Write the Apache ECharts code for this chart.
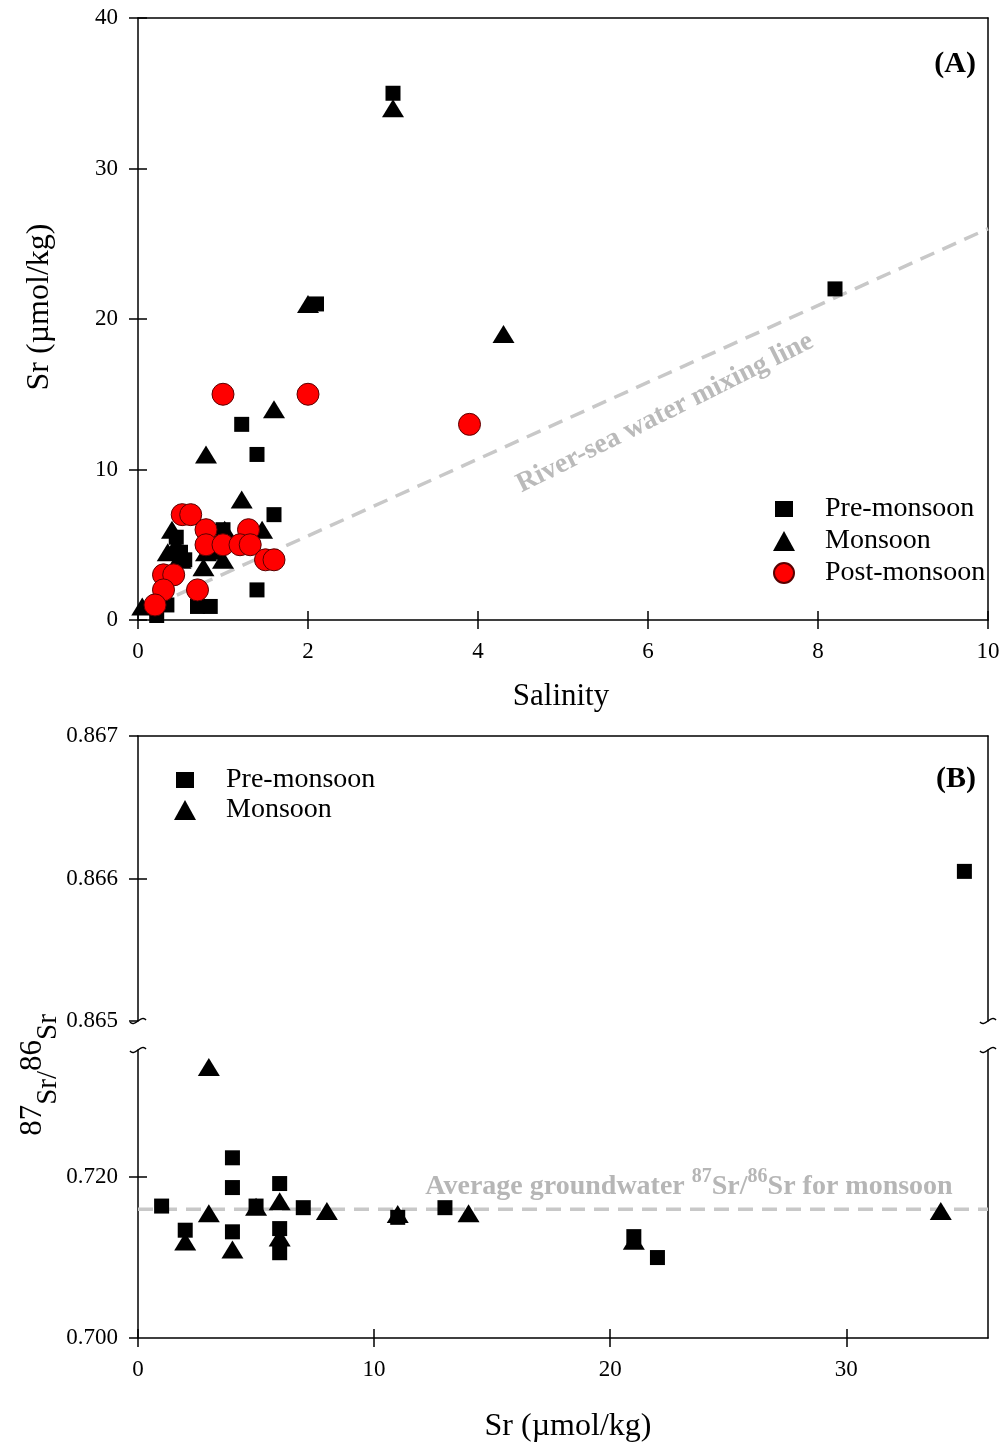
<!DOCTYPE html>
<html>
<head>
<meta charset="utf-8">
<script src="https://cdn.jsdelivr.net/npm/echarts@6/dist/echarts.min.js"></script>
<style>
  html, body { margin: 0; padding: 0; background: #fff; }
  #chart { width: 1005px; height: 1449px; }
</style>
</head>
<body>
<div id="chart"></div>
<script>
// ---- Panel A: salinity vs dissolved Sr (µmol/kg) ----
const salSrPre = [
  [3.0, 35], [8.2, 22], [2.1, 21], [1.22, 13], [1.4, 11], [1.6, 7], [1.4, 2],
  [0.7, 0.9], [0.85, 0.9], [0.22, 0.3], [0.34, 1.0], [0.5, 4.5], [0.45, 5.5],
  [0.55, 4.0], [0.3, 1.8], [0.9, 4.5], [1.0, 6.0]
];
const salSrMonsoon = [
  [3.0, 34], [4.3, 19], [2.0, 21], [1.6, 14], [0.8, 11], [1.22, 8], [1.46, 6],
  [1.02, 6], [0.4, 6], [0.45, 5], [0.5, 4], [0.42, 3.5], [0.77, 3.5], [1.0, 4],
  [0.05, 0.9], [0.8, 4.5], [0.35, 4.5]
];
const salSrPost = [
  [1.0, 15], [2.0, 15], [3.9, 13], [0.52, 7], [0.62, 7], [0.8, 6], [1.3, 6],
  [0.8, 5], [1.0, 5], [1.2, 5], [1.32, 5], [1.5, 4], [1.6, 4], [0.3, 3],
  [0.42, 3], [0.3, 2], [0.7, 2], [0.2, 1]
];
const mixingLine = [[0.2, 1.0], [10, 26]];
const salinityTicks = [0, 2, 4, 6, 8, 10];
const srTicksA = [0, 10, 20, 30, 40];

// ---- Panel B: dissolved Sr vs 87Sr/86Sr ----
const srRatioPre = [
  [35, 0.86605], [1, 0.7164], [2, 0.7134], [4, 0.7224], [4, 0.7187], [4, 0.7132],
  [5, 0.7164], [6, 0.7192], [6, 0.7136], [6, 0.7106], [7, 0.7162], [11, 0.7150],
  [13, 0.7162], [21, 0.7126], [22, 0.7100]
];
const srRatioMonsoon = [
  [3, 0.7337], [2, 0.7120], [3, 0.7155], [4, 0.7110], [5, 0.7163], [6, 0.7170],
  [6, 0.7125], [8, 0.7158], [11, 0.7154], [14, 0.7155], [21, 0.7121], [34, 0.7158]
];
const avgMonsoonRatio = 0.716;
const srTicksB = [0, 10, 20, 30];
const ratioTicksUpper = [0.865, 0.866, 0.867];
const ratioTicksLower = [0.700, 0.720];
const ratioBreak = 0.8;          // values above this sit on the upper axis segment

// ---- layout ----
const L = 138, W = 850;
const gA = { top: 18, height: 602 };
const gBu = { top: 736, height: 285 };
const gBl = { top: 1050, height: 288 };
const SERIF = '"Liberation Serif", "Times New Roman", serif';
const AXIS_LW = 1.5;

const upperPart = arr => arr.filter(d => d[1] > ratioBreak);
const lowerPart = arr => arr.filter(d => d[1] <= ratioBreak);

const lineStyle = { color: '#000', width: AXIS_LW };
const labelStyle = { color: '#000', fontFamily: SERIF, fontSize: 23 };

function axisBase(gridIndex, min, max, position) {
  return {
    type: 'value', gridIndex, min, max, position,
    splitLine: { show: false },
    axisLine: { show: false, lineStyle },
    axisTick: { show: false },
    axisLabel: { show: false }
  };
}
// axis with line, outside ticks and labels
function mainAxis(gridIndex, min, max, position, ticks, fmt, margin) {
  const a = axisBase(gridIndex, min, max, position);
  a.axisLine = { show: true, onZero: false, lineStyle };
  a.axisTick = { show: true, inside: false, length: 9, lineStyle, customValues: ticks };
  a.axisLabel = Object.assign({ show: true, margin, formatter: fmt, customValues: ticks }, labelStyle);
  return a;
}
// inside half of the crossing ticks
function innerTicks(gridIndex, min, max, position, ticks) {
  const a = axisBase(gridIndex, min, max, position);
  a.axisTick = { show: true, inside: true, length: 9, lineStyle, customValues: ticks };
  return a;
}
// plain frame line
function frameAxis(gridIndex, min, max, position) {
  const a = axisBase(gridIndex, min, max, position);
  a.axisLine = { show: true, onZero: false, lineStyle };
  return a;
}

const fmt3 = v => v.toFixed(3);
const fmt0 = v => String(v);
const ratioUpperMax = ratioTicksUpper[ratioTicksUpper.length - 1];
const ratioUpperMin = ratioTicksUpper[0];
// lower segment keeps the same px-per-unit scale as 0.700–0.720 spacing implies
const ratioLowerMin = ratioTicksLower[0];
const ratioLowerMax = 0.7358;

const xAxes = [
  mainAxis(0, 0, 10, 'bottom', salinityTicks, fmt0, 20),             // 0
  innerTicks(0, 0, 10, 'bottom', salinityTicks),                     // 1
  frameAxis(0, 0, 10, 'top'),                                        // 2
  frameAxis(1, 0, 36, 'top'),                                        // 3
  mainAxis(2, 0, 36, 'bottom', srTicksB, fmt0, 20),                  // 4
  innerTicks(2, 0, 36, 'bottom', srTicksB)                           // 5
];
const yAxes = [
  mainAxis(0, 0, 40, 'left', srTicksA, fmt0, 20),                    // 0
  innerTicks(0, 0, 40, 'left', srTicksA),                            // 1
  frameAxis(0, 0, 40, 'right'),                                      // 2
  mainAxis(1, ratioUpperMin, ratioUpperMax, 'left', ratioTicksUpper, fmt3, 20), // 3
  innerTicks(1, ratioUpperMin, ratioUpperMax, 'left', [0.866]),      // 4
  frameAxis(1, ratioUpperMin, ratioUpperMax, 'right'),               // 5
  mainAxis(2, ratioLowerMin, ratioLowerMax, 'left', ratioTicksLower, fmt3, 20), // 6
  innerTicks(2, ratioLowerMin, ratioLowerMax, 'left', [0.720]),      // 7
  frameAxis(2, ratioLowerMin, ratioLowerMax, 'right')                // 8
];

const sqStyle = { color: '#000', opacity: 1 };
const triStyle = { color: '#000', opacity: 1 };
const circStyle = { color: '#ff0000', borderColor: '#5a0000', borderWidth: 1, opacity: 1 };

function scatter(name, data, xi, yi, symbol, size, itemStyle) {
  return {
    type: 'scatter', name, data, xAxisIndex: xi, yAxisIndex: yi,
    symbol, symbolSize: size, itemStyle, z: 3,
    emphasis: { disabled: true }
  };
}
function dashed(data, xi, yi) {
  return {
    type: 'line', data, xAxisIndex: xi, yAxisIndex: yi, symbol: 'none', z: 2,
    lineStyle: { color: '#c8c8c8', width: 3.5, type: [15, 9] },
    silent: true
  };
}
const SQ = 15, TRI = [22, 18], CIRC = 22;

const series = [
  dashed(mixingLine, 0, 0),
  scatter('Pre-monsoon', salSrPre, 0, 0, 'rect', SQ, sqStyle),
  scatter('Monsoon', salSrMonsoon, 0, 0, 'triangle', TRI, triStyle),
  scatter('Post-monsoon', salSrPost, 0, 0, 'circle', CIRC, circStyle),

  scatter('Pre-monsoon', upperPart(srRatioPre), 3, 3, 'rect', SQ, sqStyle),
  scatter('Monsoon', upperPart(srRatioMonsoon), 3, 3, 'triangle', TRI, triStyle),

  dashed([[0, avgMonsoonRatio], [36, avgMonsoonRatio]], 4, 6),
  scatter('Pre-monsoon', lowerPart(srRatioPre), 4, 6, 'rect', SQ, sqStyle),
  scatter('Monsoon', lowerPart(srRatioMonsoon), 4, 6, 'triangle', TRI, triStyle)
];

// small wavy marks where the ratio axis is broken
function breakMark(x, y) {
  return {
    type: 'bezierCurve',
    shape: { x1: x - 8, y1: y + 1, cpx1: x - 3, cpy1: y + 7, cpx2: x + 3, cpy2: y - 7, x2: x + 8, y2: y - 1 },
    style: { fill: null, stroke: '#000', lineWidth: 1.5 }
  };
}
const breakTop = gBu.top + gBu.height, breakBottom = gBl.top;

const titleFont = `32px ${SERIF}`;
const graphics = [
  breakMark(L, breakTop), breakMark(L, breakBottom),
  breakMark(L + W, breakTop), breakMark(L + W, breakBottom),
  { type: 'text', x: 976, y: 64, style: { text: '(A)', font: `bold 30px ${SERIF}`, fill: '#000', textAlign: 'right', textVerticalAlign: 'middle' } },
  { type: 'text', x: 976, y: 779, style: { text: '(B)', font: `bold 30px ${SERIF}`, fill: '#000', textAlign: 'right', textVerticalAlign: 'middle' } },
  { type: 'text', x: 561, y: 697, style: { text: 'Salinity', font: `31px ${SERIF}`, fill: '#000', textAlign: 'center', textVerticalAlign: 'middle' } },
  { type: 'text', x: 40, y: 307, rotation: Math.PI / 2, style: { text: 'Sr (µmol/kg)', font: titleFont, fill: '#000', textAlign: 'center', textVerticalAlign: 'middle' } },
  { type: 'text', x: 568, y: 1427, style: { text: 'Sr (µmol/kg)', font: titleFont, fill: '#000', textAlign: 'center', textVerticalAlign: 'middle' } },
  {
    type: 'text', x: 40, y: 1075, rotation: Math.PI / 2,
    style: {
      text: '{sup|87}{n|Sr/}{sup|86}{n|Sr}', fill: '#000', textAlign: 'center', textVerticalAlign: 'middle',
      rich: {
        sup: { fontFamily: SERIF, fontSize: 31, verticalAlign: 'top', lineHeight: 46 },
        n: { fontFamily: SERIF, fontSize: 29, verticalAlign: 'bottom', lineHeight: 46 }
      }
    }
  },
  {
    type: 'text', x: 665, y: 413, rotation: 26.5 * Math.PI / 180,
    style: { text: 'River-sea water mixing line', font: `bold 28px ${SERIF}`, fill: '#bababa', textAlign: 'center', textVerticalAlign: 'middle' }
  },
  {
    type: 'text', x: 689, y: 1184,
    style: {
      text: '{b|Average groundwater }{s|87}{b|Sr/}{s|86}{b|Sr for monsoon}', fill: '#b6b6b6',
      textAlign: 'center', textVerticalAlign: 'middle',
      rich: {
        b: { fontFamily: SERIF, fontWeight: 'bold', fontSize: 28, color: '#b6b6b6', verticalAlign: 'bottom', lineHeight: 34 },
        s: { fontFamily: SERIF, fontWeight: 'bold', fontSize: 20, color: '#b6b6b6', verticalAlign: 'top', lineHeight: 34 }
      }
    }
  }
];

const legendText = { color: '#000', fontFamily: SERIF, fontSize: 28, padding: [0, 0, 0, 25] };
// a white rim trims the square legend icon down to the size of the plotted squares
const squareLegend = { name: 'Pre-monsoon', itemStyle: { borderColor: '#fff', borderWidth: 4 } };
const option = {
  animation: false,
  backgroundColor: '#fff',
  grid: [
    { left: L, width: W, top: gA.top, height: gA.height },
    { left: L, width: W, top: gBu.top, height: gBu.height },
    { left: L, width: W, top: gBl.top, height: gBl.height }
  ],
  xAxis: xAxes,
  yAxis: yAxes,
  legend: [
    {
      data: [squareLegend, 'Monsoon', 'Post-monsoon'], orient: 'vertical',
      left: 766, top: 490, itemWidth: 22, itemHeight: 20, itemGap: 4,
      textStyle: legendText, selectedMode: false
    },
    {
      data: [squareLegend, 'Monsoon'], orient: 'vertical',
      left: 167, top: 761, itemWidth: 22, itemHeight: 20, itemGap: 2,
      textStyle: legendText, selectedMode: false
    }
  ],
  series,
  graphic: graphics
};

const chart = echarts.init(document.getElementById('chart'), null, { renderer: 'canvas' });
chart.setOption(option);
</script>
</body>
</html>
